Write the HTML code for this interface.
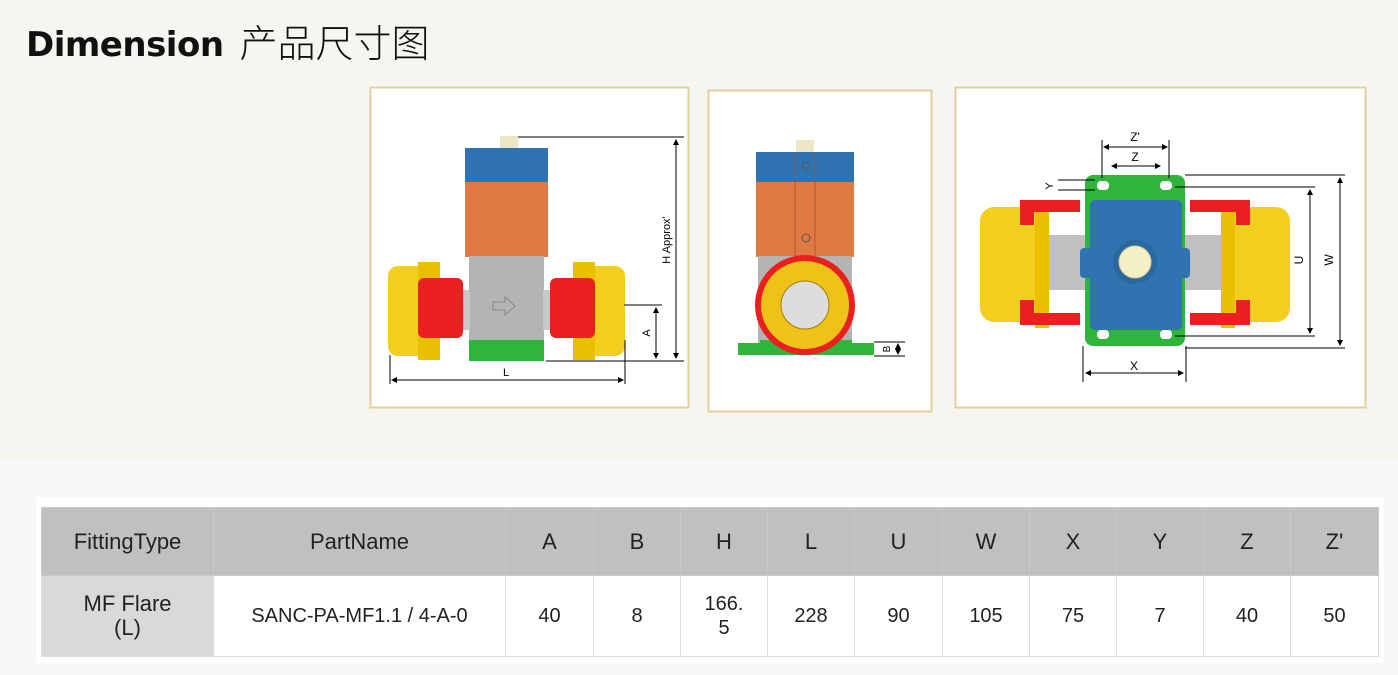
<!DOCTYPE html>
<html><head><meta charset="utf-8"><style>
body{margin:0;width:1398px;height:675px;overflow:hidden;background:#f8f8f8;position:relative;font-family:"Liberation Sans","Noto Sans CJK SC",sans-serif}
.top{position:absolute;left:0;top:0;width:1398px;height:460px;background:#f7f5ef}
.title{position:absolute;left:26px;top:16px;font-size:36px;color:#111;white-space:nowrap;line-height:48px}
.title b{font-family:"DejaVu Sans","Liberation Sans",sans-serif;font-weight:bold;font-size:34px;letter-spacing:-0.5px}
.title span{font-family:"Noto Sans CJK SC",sans-serif;font-weight:300;font-size:38px;margin-left:16px;position:relative;top:1px}
.tw{position:absolute;left:36px;top:497px;width:1348px;height:166px;background:#fff}
table{position:absolute;left:41px;top:507px;border-collapse:collapse;font-size:22px;color:#222;table-layout:fixed}
td{border:1px solid #ddd;text-align:center;padding:0;line-height:24px}
tr.h td{background:#c0c0c0;height:67px;border-color:#c8c8c8}
tr.d td{height:80px;font-size:20px}
tr.d td.f{background:#d9d9d9;font-size:22px}
svg{position:absolute;left:0;top:0}
</style></head><body>
<div class="top"></div>
<div class="title"><b>Dimension</b><span>产品尺寸图</span></div>
<svg width="1398" height="460" font-family="Liberation Sans,sans-serif">
<defs>
<marker id="a" markerWidth="6" markerHeight="6" refX="5" refY="3" orient="auto-start-reverse"><path d="M0,0L6,3L0,6z" fill="#000"/></marker>
</defs>
<rect x="370.5" y="87.5" width="318" height="320" fill="#fff" stroke="#e2cf9c" stroke-width="2"/>
<rect x="500" y="136" width="18" height="14" fill="#ece6c4"/>
<rect x="465" y="148" width="83" height="35" fill="#2f74b0"/>
<rect x="465" y="182" width="83" height="75" fill="#e07a45"/>
<rect x="469" y="256" width="75" height="85" fill="#b4b4b4"/>
<rect x="469" y="340" width="75" height="21" fill="#2fb53a"/>
<rect x="440" y="290" width="30" height="40" fill="#c8c8c8"/>
<rect x="543" y="290" width="30" height="40" fill="#c8c8c8"/>
<rect x="388" y="266" width="50" height="90" rx="10" fill="#f2cf1f"/>
<rect x="418" y="262" width="22" height="98" fill="#e8c000"/>
<rect x="418" y="278" width="45" height="60" rx="6" fill="#ea2020"/>
<rect x="575" y="266" width="50" height="90" rx="10" fill="#f2cf1f"/>
<rect x="573" y="262" width="22" height="98" fill="#e8c000"/>
<rect x="550" y="278" width="45" height="60" rx="6" fill="#ea2020"/>
<path d="M493 302h12v-5l10 9-10 9v-5h-12z" fill="none" stroke="#888"/>
<g stroke="#000" stroke-width="1" fill="none">
<line x1="518" y1="137" x2="684" y2="137"/><line x1="546" y1="361" x2="684" y2="361"/>
<line x1="676" y1="140" x2="676" y2="358" marker-start="url(#a)" marker-end="url(#a)"/>
<line x1="624" y1="305" x2="662" y2="305"/>
<line x1="656" y1="308" x2="656" y2="358" marker-start="url(#a)" marker-end="url(#a)"/>
<line x1="390" y1="355" x2="390" y2="384"/><line x1="625" y1="340" x2="625" y2="384"/>
<line x1="392" y1="380" x2="623" y2="380" marker-start="url(#a)" marker-end="url(#a)"/>
</g>
<text x="670" y="240" font-size="11" transform="rotate(-90 670 240)" text-anchor="middle">H Approx'</text>
<text x="650" y="333" font-size="11" transform="rotate(-90 650 333)" text-anchor="middle">A</text>
<text x="506" y="376" font-size="11" text-anchor="middle">L</text>
<rect x="708.5" y="90.5" width="223" height="321" fill="#fff" stroke="#e2cf9c" stroke-width="2"/>
<rect x="796" y="140" width="18" height="14" fill="#ece6c4"/>
<rect x="756" y="152" width="98" height="30" fill="#2f74b0"/>
<rect x="756" y="182" width="98" height="75" fill="#e07a45"/>
<line x1="795" y1="152" x2="795" y2="256" stroke="#a05030" stroke-width="0.8"/>
<line x1="815" y1="152" x2="815" y2="256" stroke="#a05030" stroke-width="0.8"/>
<circle cx="806" cy="166" r="4" fill="none" stroke="#555"/><circle cx="806" cy="238" r="4" fill="none" stroke="#555"/>
<rect x="758" y="256" width="94" height="88" fill="#b4b4b4"/>
<rect x="738" y="343" width="136" height="12" fill="#2fb53a"/>
<rect x="760" y="340" width="92" height="8" fill="#2fb53a"/>
<circle cx="805" cy="305" r="50" fill="#ea2020"/>
<circle cx="805" cy="305" r="44" fill="#efc21a"/>
<circle cx="805" cy="305" r="24" fill="#ddd" stroke="#a08000"/>
<g stroke="#000" fill="none"><line x1="874" y1="342" x2="905" y2="342"/><line x1="874" y1="356" x2="905" y2="356"/>
<line x1="898" y1="344" x2="898" y2="354" marker-start="url(#a)" marker-end="url(#a)"/></g>
<text x="890" y="349" font-size="10" transform="rotate(-90 890 349)" text-anchor="middle">B</text>
<rect x="955.5" y="87.5" width="410" height="320" fill="#fff" stroke="#e2cf9c" stroke-width="2"/>
<rect x="1045" y="235" width="50" height="55" fill="#c0c0c0"/>
<rect x="1175" y="235" width="50" height="55" fill="#c0c0c0"/>
<rect x="980" y="207" width="68" height="115" rx="14" fill="#f2cf1f"/>
<rect x="1035" y="200" width="14" height="128" fill="#e8c000"/>
<rect x="1020" y="200" width="60" height="12" fill="#ea2020"/><rect x="1020" y="313" width="60" height="12" fill="#ea2020"/>
<rect x="1020" y="200" width="14" height="25" fill="#ea2020"/><rect x="1020" y="300" width="14" height="25" fill="#ea2020"/>
<rect x="1222" y="207" width="68" height="115" rx="14" fill="#f2cf1f"/>
<rect x="1221" y="200" width="14" height="128" fill="#e8c000"/>
<rect x="1190" y="200" width="60" height="12" fill="#ea2020"/><rect x="1190" y="313" width="60" height="12" fill="#ea2020"/>
<rect x="1236" y="200" width="14" height="25" fill="#ea2020"/><rect x="1236" y="300" width="14" height="25" fill="#ea2020"/>
<rect x="1085" y="175" width="100" height="171" rx="8" fill="#2fb53a"/>
<rect x="1090" y="200" width="92" height="130" rx="5" fill="#2f74b0"/>
<rect x="1080" y="248" width="110" height="30" rx="4" fill="#2f74b0"/>
<g fill="#fff"><rect x="1097" y="181" width="12" height="9" rx="4"/><rect x="1160" y="181" width="12" height="9" rx="4"/><rect x="1097" y="330" width="12" height="9" rx="4"/><rect x="1160" y="330" width="12" height="9" rx="4"/></g>
<circle cx="1135" cy="262" r="22" fill="#2a68a0"/><circle cx="1135" cy="262" r="16" fill="#f3f0c8" stroke="#d8c890"/>
<g stroke="#000" fill="none">
<line x1="1102" y1="140" x2="1102" y2="178"/><line x1="1169" y1="140" x2="1169" y2="178"/>
<line x1="1104" y1="147" x2="1167" y2="147" marker-start="url(#a)" marker-end="url(#a)"/>
<line x1="1112" y1="166" x2="1160" y2="166" marker-start="url(#a)" marker-end="url(#a)"/>
<line x1="1185" y1="175" x2="1345" y2="175"/><line x1="1175" y1="187" x2="1315" y2="187"/>
<line x1="1175" y1="336" x2="1315" y2="336"/><line x1="1185" y1="348" x2="1345" y2="348"/>
<line x1="1340" y1="178" x2="1340" y2="345" marker-start="url(#a)" marker-end="url(#a)"/>
<line x1="1310" y1="190" x2="1310" y2="333" marker-start="url(#a)" marker-end="url(#a)"/>
<line x1="1083" y1="346" x2="1083" y2="382"/><line x1="1186" y1="346" x2="1186" y2="382"/>
<line x1="1086" y1="373" x2="1183" y2="373" marker-start="url(#a)" marker-end="url(#a)"/>
<line x1="1058" y1="180" x2="1095" y2="180"/><line x1="1058" y1="190" x2="1095" y2="190"/>
</g>
<text x="1135" y="141" font-size="12" text-anchor="middle">Z'</text>
<text x="1135" y="161" font-size="12" text-anchor="middle">Z</text>
<text x="1303" y="260" font-size="12" transform="rotate(-90 1303 260)" text-anchor="middle">U</text>
<text x="1333" y="260" font-size="12" transform="rotate(-90 1333 260)" text-anchor="middle">W</text>
<text x="1134" y="370" font-size="12" text-anchor="middle">X</text>
<text x="1053" y="186" font-size="11" transform="rotate(-90 1053 186)" text-anchor="middle">Y</text>
</svg>
<div class="tw"></div>
<table>
<colgroup><col style="width:172px"><col style="width:292px"><col style="width:88px"><col style="width:87px"><col style="width:87px"><col style="width:87px"><col style="width:88px"><col style="width:87px"><col style="width:87px"><col style="width:87px"><col style="width:87px"><col style="width:88px"></colgroup>
<tr class="h"><td>FittingType</td><td>PartName</td><td>A</td><td>B</td><td>H</td><td>L</td><td>U</td><td>W</td><td>X</td><td>Y</td><td>Z</td><td>Z'</td></tr>
<tr class="d"><td class="f">MF Flare<br>(L)</td><td>SANC-PA-MF1.1 / 4-A-0</td><td>40</td><td>8</td><td>166.<br>5</td><td>228</td><td>90</td><td>105</td><td>75</td><td>7</td><td>40</td><td>50</td></tr>
</table>
</body></html>
